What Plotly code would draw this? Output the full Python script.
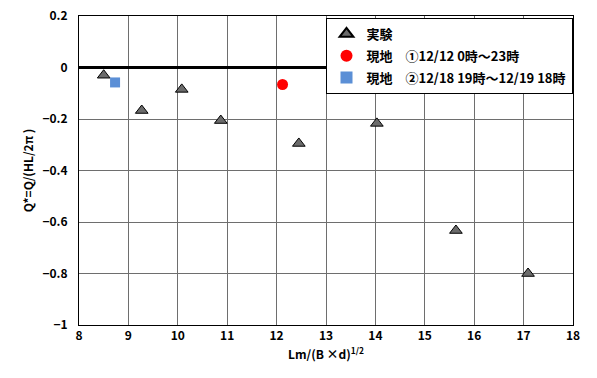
import plotly.graph_objects as go

exp_x = [8.5, 9.27, 10.08, 10.87, 12.45, 14.03, 15.63, 17.09]
exp_y = [-0.03, -0.167, -0.085, -0.206, -0.295, -0.217, -0.633, -0.80]
site1_x = [12.12]
site1_y = [-0.066]
site2_x = [8.73]
site2_y = [-0.058]

names = ["実験", "現地　①12/12 0時～23時", "現地　②12/18 19時～12/19 18時"]
x_ticks = list(range(8, 19))
y_ticks = [0.2, 0, -0.2, -0.4, -0.6, -0.8, -1]

font = "Noto Sans CJK JP, Noto Sans, sans-serif"

fig = go.Figure()
fig.add_trace(go.Scatter(x=exp_x, y=exp_y, mode="markers", name="<b>%s</b>" % names[0],
                         legendgroup="a",
                         marker=dict(symbol="triangle-up", size=11, color="#6b6b6b",
                                     line=dict(color="black", width=1))))
fig.add_trace(go.Scatter(x=site1_x, y=site1_y, mode="markers", name="<b>%s</b>" % names[1],
                         legendgroup="b",
                         marker=dict(symbol="circle", size=11, color="#ff0000",
                                     line=dict(color="#ff0000", width=0))))
fig.add_trace(go.Scatter(x=site2_x, y=site2_y, mode="markers", name="<b>%s</b>" % names[2],
                         legendgroup="c",
                         marker=dict(symbol="square", size=10, color="#5b8fd6",
                                     line=dict(color="#5b8fd6", width=0))))

fig.update_layout(
    template="none",
    width=597, height=378,
    margin=dict(l=79, r=24, t=16, b=53, autoexpand=False),
    paper_bgcolor="white", plot_bgcolor="white",
    font=dict(family=font, size=12, color="black"),
    showlegend=True,
    legend=dict(x=0.499, y=0.994, xanchor="left", yanchor="top",
                bgcolor="white", bordercolor="black", borderwidth=1,
                font=dict(size=13, family=font), itemsizing="constant",
                tracegroupgap=2, itemwidth=30),
)
fig.update_xaxes(range=[8, 18], tickvals=x_ticks, ticktext=["<b>%d</b>" % v for v in x_ticks],
                 showgrid=True, gridcolor="#6e6e6e", gridwidth=1, automargin=False,
                 showline=True, linecolor="black", linewidth=1, mirror=True,
                 zeroline=False, ticks="", tickfont=dict(size=12),
                 title=dict(text="<b>Lm/(B ×d)<sup>1/2</sup></b>", font=dict(size=12), standoff=8))
fig.update_yaxes(range=[-1, 0.2], tickvals=y_ticks,
                 ticktext=["<b>%s</b>" % ("0" if v == 0 else ("%g" % v).replace("-", "−")) for v in y_ticks],
                 showgrid=True, gridcolor="#6e6e6e", gridwidth=1, automargin=False,
                 showline=True, linecolor="black", linewidth=1, mirror=True,
                 zeroline=True, zerolinecolor="black", zerolinewidth=2.5,
                 ticks="", tickfont=dict(size=12), ticklabelstandoff=8,
                 title=dict(text="<b>Q*=Q/(HL/2π )</b>", font=dict(size=12), standoff=6))

fig.write_html("out.html", config={"displayModeBar": False},
               post_script="document.body.style.margin='0';")
